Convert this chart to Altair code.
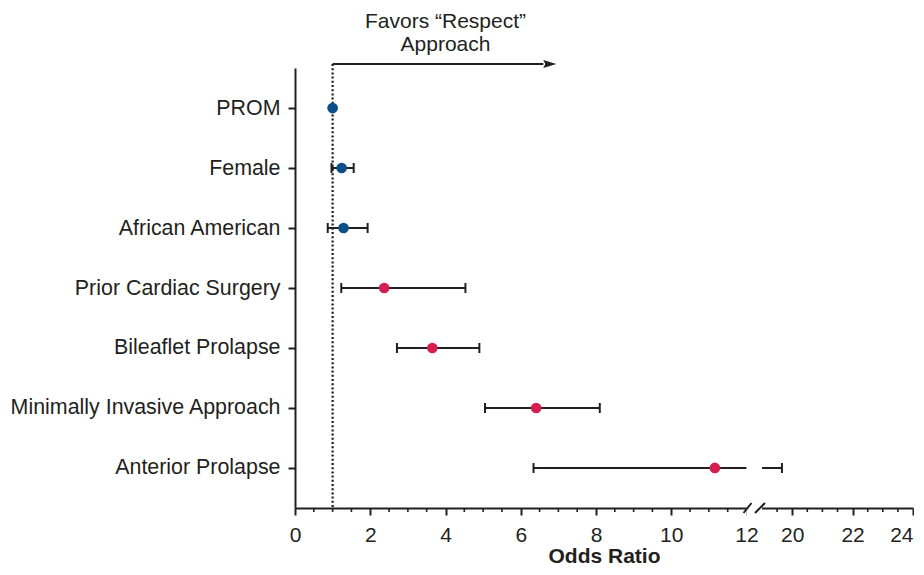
import altair as alt
import pandas as pd

# ---- data ----
factors = ["PROM", "Female", "African American", "Prior Cardiac Surgery",
           "Bileaflet Prolapse", "Minimally Invasive Approach", "Anterior Prolapse"]
odds_ratio = [1.00, 1.24, 1.29, 2.37, 3.65, 6.41, 11.16]
ci_low = [None, 0.97, 0.87, 1.23, 2.71, 5.05, 6.34]
ci_high = [None, 1.56, 1.93, 4.53, 4.90, 8.10, 19.66]
group = ["patient", "patient", "patient", "anatomic", "anatomic", "anatomic", "anatomic"]

major_ticks = [0, 2, 4, 6, 8, 10, 12, 20, 22, 24]
minor_ticks = [0.5, 1, 1.5, 2.5, 3, 3.5, 4.5, 5, 5.5, 6.5, 7, 7.5, 8.5, 9, 9.5,
               10.5, 11, 11.5, 19.5, 20.5, 21, 21.5, 22.5, 23, 23.5]
axis_break = [12, 19]          # compressed part of the odds-ratio axis
reference_or = 1               # no-effect line
arrow_end = 6.6                # "Favors" arrow extent
annotation = ["Favors \u201cRespect\u201d", "Approach"]

df = pd.DataFrame({"factor": factors, "or": odds_ratio, "lo": ci_low,
                   "hi": ci_high, "group": group})
one = pd.DataFrame({"k": [0]})
ticks_df = pd.DataFrame({"t": minor_ticks})

W, H = 618, 440
INK = "#231f20"
FONT = "Liberation Sans"

xscale = alt.Scale(domain=[0, axis_break[0], axis_break[1], 24],
                   range=[0, 451.5, 467, W], nice=False, zero=False)
yenc = alt.Y("factor:N", sort=factors,
             scale=alt.Scale(type="point", padding=0.667),
             axis=alt.Axis(title=None, labelFontSize=21.4, labelColor=INK,
                           labelFont=FONT, labelPadding=8, tickSize=7,
                           tickWidth=2, tickColor=INK, domainColor=INK,
                           domainWidth=2, grid=False, labelLimit=400))

base = alt.Chart(df)

ref_line = alt.Chart(one).mark_rule(strokeDash=[2, 2.2], strokeWidth=2.3, color="#222").encode(
    x=alt.XDatum(reference_or, scale=xscale), y=alt.value(-4), y2=alt.value(H))

arrow_line = alt.Chart(one).mark_rule(strokeWidth=2, color=INK).encode(
    x=alt.XDatum(reference_or, scale=xscale), x2=alt.X2Datum(arrow_end), y=alt.value(-4))

arrow_head = alt.Chart(one).mark_point(
    shape="M -1 -0.62 L 1 0 L -1 0.62 L -0.7 0 Z", size=169, filled=True,
    color=INK, opacity=1).encode(
    x=alt.XDatum(arrow_end, scale=xscale), y=alt.value(-4), xOffset=alt.value(6.5))

ann_text = alt.Chart(one).mark_text(
    text=annotation, fontSize=21, lineHeight=23, font=FONT, color=INK,
    align="center", baseline="alphabetic").encode(
    x=alt.XDatum(4, scale=xscale), y=alt.value(-40))

minor = alt.Chart(ticks_df).mark_rule(strokeWidth=1.6, color=INK).encode(
    x=alt.X("t:Q", scale=xscale), y=alt.value(H), y2=alt.value(H + 4))

err = base.transform_filter("isValid(datum.lo)").mark_rule(strokeWidth=2, color=INK).encode(
    x=alt.X("lo:Q", scale=xscale), x2="hi:Q", y=yenc)

caps = base.transform_filter("isValid(datum.lo)").transform_fold(
    ["lo", "hi"], as_=["end", "val"]).mark_tick(
    thickness=2, size=10, color=INK, opacity=1).encode(
    x=alt.X("val:Q", scale=xscale), y=yenc)

points = base.mark_circle(size=115, opacity=1).encode(
    x=alt.X("or:Q", scale=xscale,
            axis=alt.Axis(values=major_ticks, title="Odds Ratio", titleFontSize=21,
                          titleFont=FONT, titleFontWeight="bold", titleColor=INK,
                          titleBaseline="alphabetic", titleY=54,
                          labelFontSize=21, labelFont=FONT,
                          labelColor=INK, labelPadding=9, labelOverlap=False,
                          labelFlush=False, tickSize=7, tickWidth=2, tickColor=INK,
                          labelAlign={"condition": {"test": "datum.value == 24",
                                                    "value": "right"},
                                      "value": "center"},
                          domainColor=INK, domainWidth=2, grid=False)),
    y=yenc,
    color=alt.Color("group:N", scale=alt.Scale(domain=["patient", "anatomic"],
                                               range=["#0b4f88", "#d31f4f"]),
                    legend=None))

mask = alt.Chart(one).mark_rect(color="white").encode(
    x=alt.XDatum(axis_break[0], scale=xscale), x2=alt.X2Datum(axis_break[1]),
    y=alt.value(380), y2=alt.value(H + 9))

slash1 = alt.Chart(one).mark_rule(strokeWidth=2, color=INK, xOffset=-3, x2Offset=5).encode(
    x=alt.XDatum(axis_break[0], scale=xscale), x2=alt.X2Datum(axis_break[0]),
    y=alt.value(H + 5), y2=alt.value(H - 5))
slash2 = alt.Chart(one).mark_rule(strokeWidth=2, color=INK, xOffset=-7, x2Offset=3).encode(
    x=alt.XDatum(axis_break[1], scale=xscale), x2=alt.X2Datum(axis_break[1]),
    y=alt.value(H + 5), y2=alt.value(H - 5))

chart = alt.layer(ref_line, arrow_line, arrow_head, ann_text, minor, err, caps,
                  points, mask, slash1, slash2).properties(
    width=W, height=H,
    autosize=alt.AutoSizeParams(type="none"),
    padding={"left": 287, "top": 60, "right": 1, "bottom": 59},
).configure(font=FONT).configure_view(strokeWidth=0)

chart.save("out.html", embed_options={"renderer": "svg", "actions": False})
